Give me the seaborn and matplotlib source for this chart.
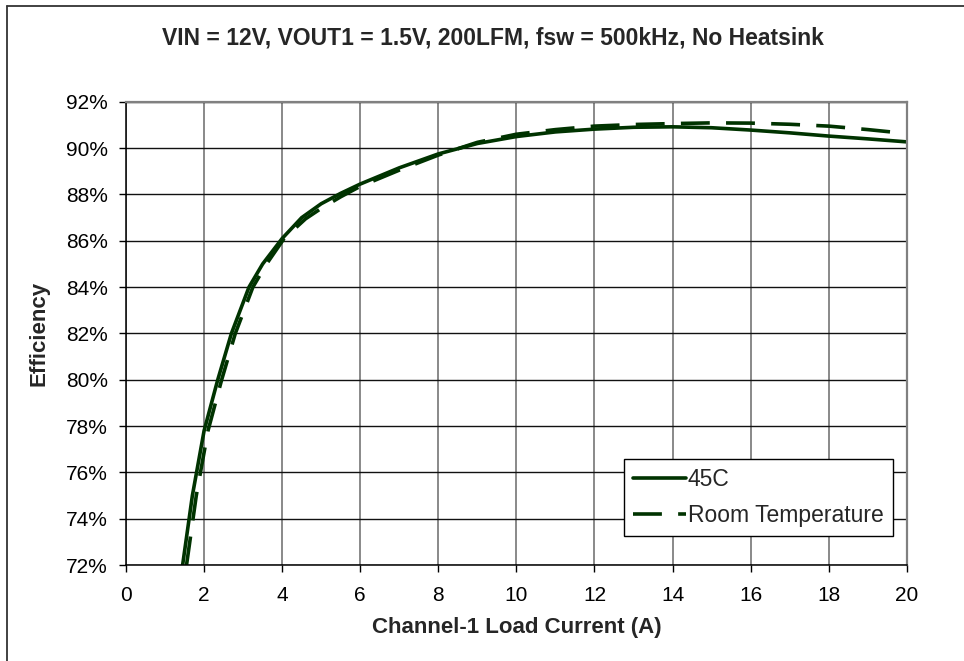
import matplotlib
matplotlib.use('Agg')
import matplotlib.pyplot as plt
import matplotlib.ticker as mticker
from matplotlib.lines import Line2D
import pandas as pd
import seaborn as sns

# data (percent)
current_45c = [1.45, 1.7, 2.0, 2.35, 2.7, 3.15, 3.5, 4.0, 4.5, 5.0, 5.5, 6.0, 7.0, 8.0,
               9.0, 10, 11, 12, 13, 14, 15, 16, 17, 18, 19, 20]
eff_45c = [72.0, 75.0, 77.8, 80.0, 82.0, 84.0, 85.0, 86.1, 87.0, 87.6, 88.05, 88.45, 89.15, 89.75,
           90.2, 90.5, 90.7, 90.82, 90.9, 90.92, 90.88, 90.78, 90.66, 90.52, 90.4, 90.27]

current_room = [1.55, 1.8, 2.1, 2.45, 2.8, 3.25, 3.6, 4.05, 4.6, 5.0, 5.5, 6.0, 7.0, 8.0,
                9.0, 10, 11, 12, 13, 14, 15, 16, 17, 18, 19, 20]
eff_room = [72.0, 75.0, 77.8, 80.0, 82.0, 84.0, 85.0, 86.1, 86.95, 87.4, 87.9, 88.35, 89.05, 89.7,
            90.25, 90.6, 90.8, 90.95, 91.02, 91.06, 91.09, 91.08, 91.03, 90.95, 90.8, 90.63]

x_ticks = list(range(0, 21, 2))
y_ticks = list(range(72, 93, 2))

df_45 = pd.DataFrame({'current': current_45c, 'eff': eff_45c})
df_room = pd.DataFrame({'current': current_room, 'eff': eff_room})

sns.set_theme(style='white')
plt.rcParams['font.family'] = ['Liberation Sans', 'DejaVu Sans']

line_color = '#003300'
dash = (0, (8, 4.5))

fig = plt.figure(figsize=(9.64, 6.61), dpi=100)
ax = fig.add_axes([0.1307, 0.145, 0.810, 0.701])

sns.lineplot(data=df_45, x='current', y='eff', ax=ax, color=line_color,
             linewidth=2.6, label='45C', sort=False)
sns.lineplot(data=df_room, x='current', y='eff', ax=ax, color=line_color,
             linewidth=2.6, linestyle=dash, label='Room Temperature', sort=False)

ax.set_xlim(0, 20)
ax.set_ylim(72, 92)
ax.set_xticks(x_ticks)
ax.set_yticks(y_ticks)
ax.yaxis.set_major_formatter(mticker.FuncFormatter(lambda v, p: f'{v:.0f}%'))

# gridlines
ax.grid(True, axis='y', color='#111111', linewidth=1.0)
ax.grid(True, axis='x', color='#808080', linewidth=1.3)

ax.tick_params(axis='both', which='major', direction='out', length=5, width=1,
               color='black', labelsize=15, labelcolor='black',
               left=True, bottom=True)
ax.tick_params(axis='y', pad=8)
ax.tick_params(axis='x', pad=10)

for side in ['left', 'bottom']:
    ax.spines[side].set_color('black')
    ax.spines[side].set_linewidth(1.1)
for side in ['top', 'right']:
    ax.spines[side].set_color('#808080')
    ax.spines[side].set_linewidth(1.6)

ax.set_xlabel('Channel-1 Load Current (A)', fontsize=16, fontweight='bold', labelpad=9)
ax.set_ylabel('Efficiency', fontsize=16, fontweight='bold', labelpad=12)

fig.text(0.511, 0.9425, 'VIN = 12V, VOUT1 = 1.5V, 200LFM, fsw = 500kHz, No Heatsink',
         ha='center', va='center', fontsize=16.5, fontweight='bold')

leg = ax.legend(loc='lower right', bbox_to_anchor=(0.982, 0.063), fontsize=16.5,
                frameon=True, fancybox=False, handlelength=2.3, handletextpad=0.1,
                borderpad=0.4, labelspacing=0.55, borderaxespad=0.0)
leg.get_frame().set_edgecolor('black')
leg.get_frame().set_linewidth(1.0)
leg.get_frame().set_alpha(1.0)

# chart area border (left and top edges visible)
fig.add_artist(Line2D([0.0073, 0.0073], [0.0, 0.991], transform=fig.transFigure,
                      color='#333333', linewidth=1.3))
fig.add_artist(Line2D([0.0073, 1.0], [0.991, 0.991], transform=fig.transFigure,
                      color='#333333', linewidth=1.3))

fig.savefig('out.png', dpi=100)
